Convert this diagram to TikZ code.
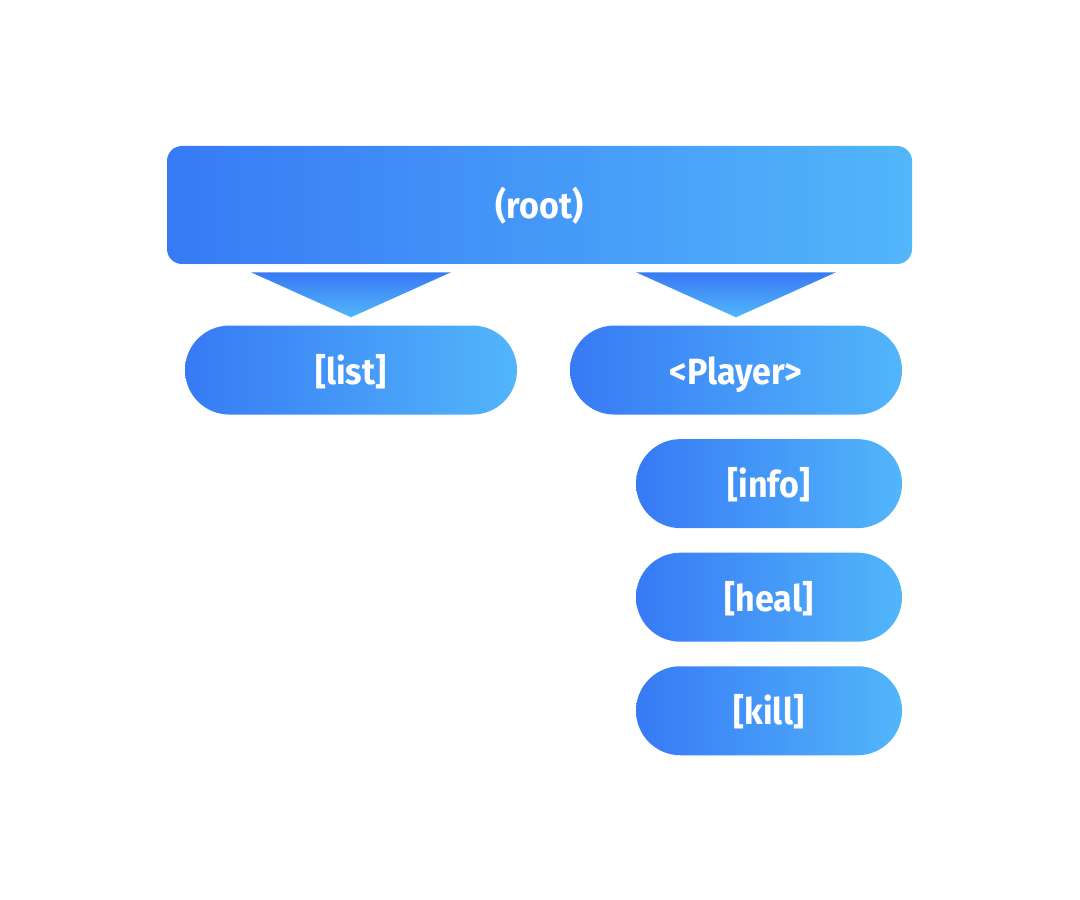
\documentclass[tikz,border=0pt]{standalone}
\usepackage{fontspec}
\setmainfont{Fira Sans}[FakeStretch=0.93]
\usetikzlibrary{calc,positioning}
\definecolor{myblue}{RGB}{55,122,245}
\definecolor{mysky}{RGB}{82,182,250}

\begin{document}
\begin{tikzpicture}[
  mybox/.style={
    rectangle,
    shade,
    left color=myblue,
    right color=mysky,
    text=white,
    font=\fontsize{26}{30}\selectfont\bfseries,
    text height=0.82cm,
    text depth=0.12cm,
    inner sep=0pt
    },
  mypill/.style={
    mybox,
    rounded corners=1.11cm,
    minimum width=#1,
    minimum height=2.225cm
  },
  myarrow/.style={
    shade,
    top color=myblue,
    bottom color=mysky
  }
]
\useasboundingbox (0,0) rectangle (27,-22.5);

\node[mybox, rounded corners=0.375cm, minimum width=18.625cm, minimum height=2.95cm]
  (root) at (13.4875,-5.125) {(root)};

\node[mypill=8.3cm, below right=1.525cm and 0.45cm of root.south west]
  (list) {[list]};
\node[mypill=8.3cm, below left=1.525cm and 0.25cm of root.south east]
  (player) {<Player>};
\node[mypill=6.65cm, below left=0.6cm and 0cm of player.south east]
  (info) {[info]};
\node[mypill=6.65cm, below=0.6cm of info]
  (heal) {[heal]};
\node[mypill=6.65cm, below=0.6cm of heal]
  (kill) {[kill]};

\foreach \Child in {list, player}
  \path[myarrow]
    ($(\Child.north |- root.south)+(-2.5,-0.2)$)
    -- ($(\Child.north |- root.south)+(2.5,-0.2)$)
    -- ($(\Child.north)+(0,0.2)$)
    -- cycle;

\end{tikzpicture}
\end{document}
